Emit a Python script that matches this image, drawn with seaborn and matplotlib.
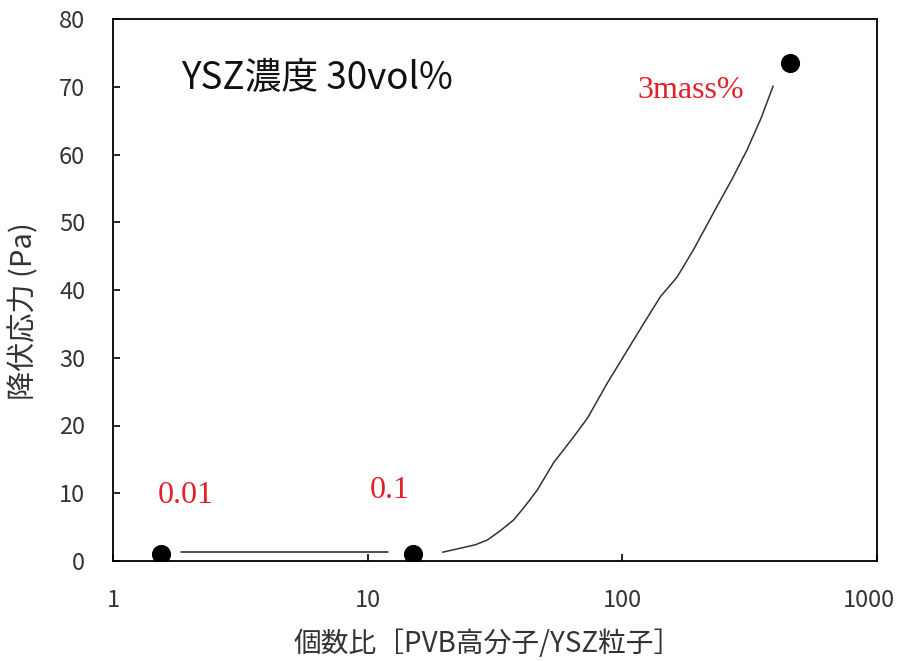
import matplotlib
matplotlib.use("Agg")
import matplotlib.pyplot as plt
import matplotlib.transforms as mtransforms
import seaborn as sns
import pandas as pd
from matplotlib.ticker import FixedLocator, FixedFormatter, NullLocator

sns.set_theme(style="white")
plt.rcParams['font.family'] = ['Noto Sans CJK JP', 'DejaVu Sans']

# data
point_x = [1.55, 15.1, 455]
point_y = [1.0, 1.0, 73.5]
point_labels = ["0.01", "0.1", "3mass%"]
label_x = [1.50, 10.2, 114.5]
label_y = [8.6, 9.3, 68.3]

flat_x = [1.85, 12.0]
flat_y = [1.33, 1.33]

curve_x = [19.7, 23.2, 26.5, 29.5, 33.0, 37.4, 41.5, 46.4, 53.7, 64.3, 73,
           87.4, 104.6, 122, 141, 164, 190, 235, 270, 309, 350, 391]
curve_y = [1.3, 1.9, 2.4, 3.1, 4.4, 6.05, 8.1, 10.5, 14.5, 18.3, 21.1,
           26.3, 31.1, 35.2, 39.0, 41.9, 45.9, 52.3, 56.4, 60.7, 65.3, 70.1]

x_ticks = [1, 10, 100, 1000]
x_tick_labels = ["1", "10", "100", "1000"]
y_ticks = [0, 10, 20, 30, 40, 50, 60, 70, 80]

title_text = "YSZ濃度 30vol%"
xlabel = "個数比［PVB高分子/YSZ粒子］"
ylabel = "降伏応力 (Pa)"

pts = pd.DataFrame({"x": point_x, "y": point_y})
flat = pd.DataFrame({"x": flat_x, "y": flat_y})
curve = pd.DataFrame({"x": curve_x, "y": curve_y})

fig = plt.figure(figsize=(9.01, 6.61), dpi=100)
ax = fig.add_axes([113/901, 1 - 561/661, (877-113)/901, (561-19)/661])

sns.lineplot(data=flat, x="x", y="y", ax=ax, color="#222222", lw=1.1,
             estimator=None, sort=False)
sns.lineplot(data=curve, x="x", y="y", ax=ax, color="#333333", lw=1.1,
             estimator=None, sort=False)
sns.scatterplot(data=pts, x="x", y="y", ax=ax, color="black", s=190,
                edgecolor="black", linewidth=0, zorder=5)

ax.set_xscale("log")
ax.set_xlim(1, 1000)
ax.set_ylim(0, 80)
ax.xaxis.set_major_locator(FixedLocator(x_ticks))
ax.xaxis.set_major_formatter(FixedFormatter(x_tick_labels))
ax.xaxis.set_minor_locator(NullLocator())
ax.set_yticks(y_ticks)

ax.tick_params(axis="both", which="major", direction="in", length=5,
               width=1.2, color="black", labelsize=17, labelcolor="#333333",
               pad=20, bottom=True, left=True, top=False, right=False)

for s in ax.spines.values():
    s.set_visible(True)
    s.set_color("black")
    s.set_linewidth(1.3)

# nudge the last x tick label left so it stays inside the figure
last = ax.get_xticklabels()[-1]
last.set_transform(last.get_transform() +
                   mtransforms.ScaledTranslation(-8/100, 0, fig.dpi_scale_trans))

ax.set_xlabel(xlabel, fontsize=20, color="#333333")
ax.xaxis.set_label_coords(0.49, -0.125)
ax.set_ylabel(ylabel, fontsize=21, color="#333333")
ax.yaxis.set_label_coords(-0.097, 0.461)

ax.text(1.85, 69.7, title_text, fontsize=26.5, color="#111111",
        ha="left", va="baseline")

for lx, ly, t in zip(label_x, label_y, point_labels):
    ax.text(lx, ly, t, fontsize=23, color="#e3202a", ha="left", va="baseline",
            family=["Liberation Serif", "DejaVu Serif"])

fig.savefig("out.png", dpi=100, facecolor="white")
